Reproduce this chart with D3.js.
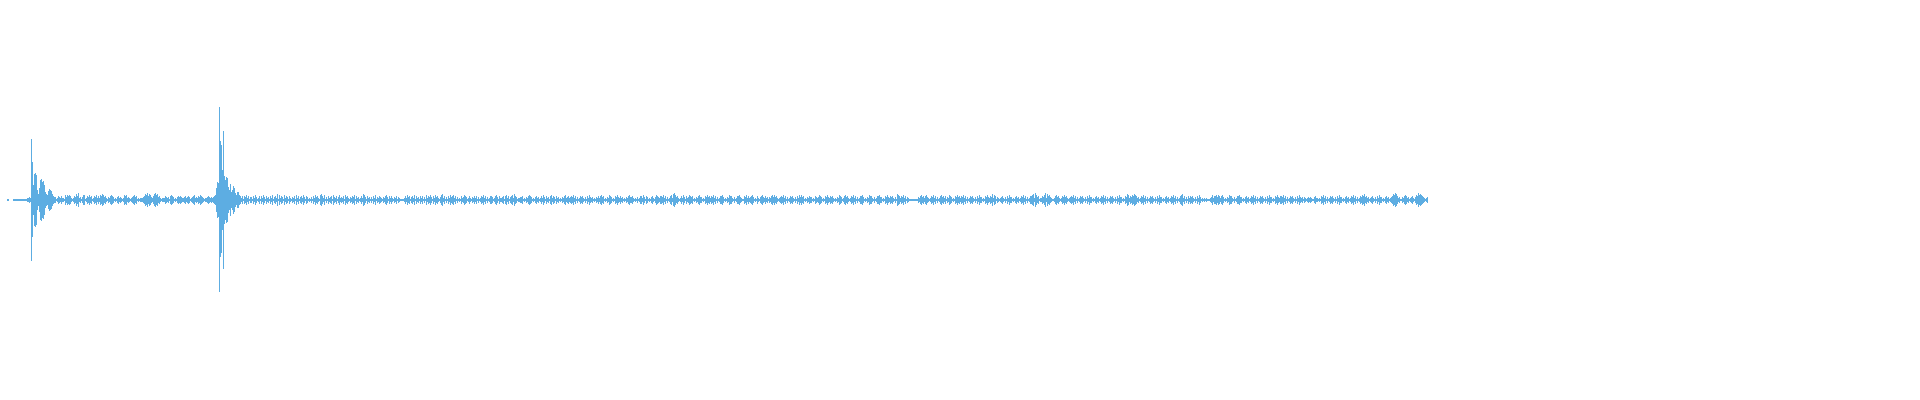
<!DOCTYPE html>
<html>
<head>
<meta charset="utf-8">
<script src="https://cdn.jsdelivr.net/npm/d3@7"></script>
<style>
  html, body { margin: 0; padding: 0; background: #ffffff; }
  svg { display: block; }
</style>
</head>
<body>
<script>
// Waveform envelope: one base-36 amplitude per column (symmetric, in amplitude units);
// '*' marks a large transient whose up/down amplitudes come from spikeUp / spikeDown.
const envelopeStart = [
  "11", "0000", "11111111111111", "2232", "**fqrpa6cklijf8659ba96"
];
const envelopeEarly = [
  "4331243242", "2153545421", "2436472313", "5512435341", "2435242546",
  "5342132454", "3121342321", "2545232123", "4534121222", "3465746532",
  "4675634212", "2243231454", "3121343432", "2342343123", "4523243543",
  "2122343", "232345"
];
const envelopeSecondHit = ["cih***u*oknmdag8aec758854"];
const envelopeTail = [
  // 241-340
  "2414352413", "3142531241", "4253142314", "2513426152", "4315243142",
  "1324152413", "4253143121", "3142534215", "6425131423", "4153241352",
  // 341-440
  "3241534213", "2435142312", "4265314231", "3142513243", "2132453142",
  "4213241321", "1112425341", "3425142314", "2413152435", "3142534213",
  // 441-540
  "5624131425", "3452413121", "4235431242", "1324241312", "4352413124",
  "4312453142", "2341452413", "4526431223", "3412132454", "3121342312",
  // 541-640
  "4253142314", "5243142312", "1324523423", "4352413124", "3421314253",
  "2312132424", "5341213254", "3121435324", "2312132453", "3421213124",
  // 641-740
  "4253143121", "3421354324", "4352413124", "5267534212", "4253142354",
  "3412132453", "3121435342", "4352413124", "4531213254", "4213124453",
  // 741-840
  "2114352423", "4531214213", "4532423132", "4535342123", "4352413124",
  "3421314253", "5341213243", "3121432354", "3121435324", "3421213254",
  // 841-940
  "3124534212", "4352413124", "4531213254", "4213124453", "3121435324",
  "3421316542", "4352413211", "1111111324", "5342453212", "4352413124",
  // 941-1040
  "5342413254", "3121435342", "4352413124", "3421314253", "3121435324",
  "3625413212", "3421314253", "3121342312", "4352413124", "4562753412",
  // 1041-1140
  "2435726453", "2112453421", "2435342123", "4352413124", "3421314253",
  "3121342312", "4352413124", "3421314253", "3121436524", "3546542312",
  // 1141-1240
  "4352413124", "3421314253", "3121342312", "4352413124", "5624131424",
  "3421314253", "1212121112", "3524453542", "4531213254", "4213124453",
  // 1241-1340
  "3121342312", "4352413124", "3421314253", "3121435324", "4352413124",
  "3421314253", "2313212323", "2113422121", "4352413124", "3421314253",
  // 1341-1427
  "3121342312", "4352413124", "3546342312", "3421314253", "3121342312",
  "3465764231", "1324542312", "3421354756", "5432123"
];
const spikeUp   = [61, 38, 93, 59, 55, 69];
const spikeDown = [61, 37, 92, 57, 53, 69];

const color = "#5dade2";

const chars = [...envelopeStart, ...envelopeEarly, ...envelopeSecondHit, ...envelopeTail].join("");
let k = 0;
const columns = Array.from(chars, (c, i) => {
  if (c === "*") {
    const d = { i, up: spikeUp[k], down: spikeDown[k] };
    k++;
    return d;
  }
  const a = parseInt(c, 36);
  return { i, up: a, down: a };
}).filter(d => d.up > 0 || d.down > 0);

const width = 1920, height = 400;
const svg = d3.select("body").append("svg")
  .attr("width", width).attr("height", height);

const x = d3.scaleLinear().domain([0, chars.length]).range([7, 1428]);
const y = d3.scaleLinear().domain([-100, 100]).range([300, 100]);

svg.append("g")
  .attr("fill", color)
  .attr("shape-rendering", "crispEdges")
  .selectAll("rect")
  .data(columns)
  .join("rect")
  .attr("x", d => x(d.i))
  .attr("width", d => Math.max(1, x(d.i + 1) - x(d.i)))
  .attr("y", d => y(d.up))
  .attr("height", d => y(-d.down) - y(d.up));
</script>
</body>
</html>
